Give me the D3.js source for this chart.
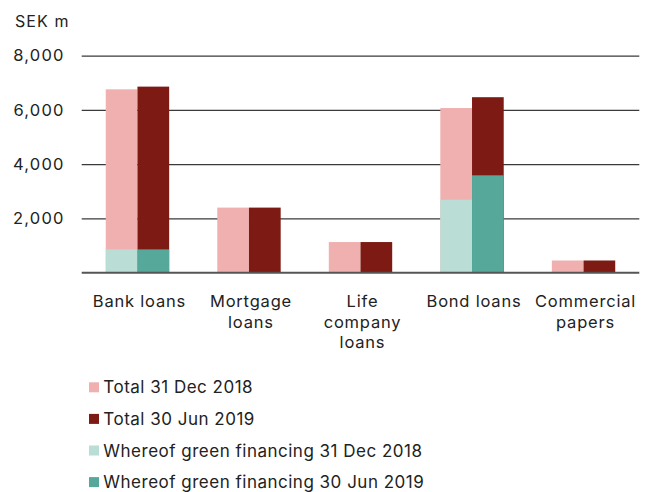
<!DOCTYPE html>
<html>
<head>
<meta charset="utf-8">
<script src="https://cdn.jsdelivr.net/npm/d3@7"></script>
<style>
  body { margin: 0; background: #fff; }
  text { font-family: Inter, "Noto Sans", sans-serif; fill: #222; }
</style>
</head>
<body>
<div id="plot"></div>
<script>
// data (SEK m)
var categories = ["Bank loans", "Mortgage loans", "Life company loans", "Bond loans", "Commercial papers"];
var catLines = [["Bank loans"], ["Mortgage", "loans"], ["Life", "company", "loans"], ["Bond loans"], ["Commercial", "papers"]];
var total2018 = [6760, 2400, 1130, 6070, 450];
var total2019 = [6860, 2400, 1130, 6470, 450];
var green2018 = [860, 0, 0, 2690, 0];
var green2019 = [860, 0, 0, 3590, 0];
var yTicks = [2000, 4000, 6000, 8000];
var seriesNames = ["Total 31 Dec 2018", "Total 30 Jun 2019", "Whereof green financing 31 Dec 2018", "Whereof green financing 30 Jun 2019"];
var colors = ["#EFB0AF", "#7D1A13", "#BADDD6", "#56A99A"];

var width = 656, height = 492;
var marginLeft = 81.7, marginRight = 16.7, marginTop = 55.7, plotBottom = 272.7;

var svg = d3.select("#plot").append("svg")
  .attr("width", width)
  .attr("height", height);

var x = d3.scaleBand()
  .domain(categories)
  .range([marginLeft, width - marginRight]);

var y = d3.scaleLinear()
  .domain([0, 8000])
  .range([plotBottom, marginTop]);

var barW = 31.7;

// gridlines + tick labels
svg.append("g")
  .attr("transform", `translate(${marginLeft},0)`)
  .call(d3.axisLeft(y).tickValues(yTicks).tickSize(0).tickPadding(17).tickFormat(d3.format(",")))
  .call(g => g.select(".domain").remove())
  .call(g => g.selectAll(".tick line").clone()
    .attr("x2", width - marginLeft - marginRight)
    .attr("stroke", "#3a3a3a")
    .attr("stroke-width", 1.3))
  .call(g => g.selectAll(".tick text")
    .attr("font-size", 16.5)
    .attr("letter-spacing", 1.2)
    .attr("fill", "#222")
    .attr("font-family", "Inter"));

svg.append("text")
  .attr("x", 15)
  .attr("y", 27.3)
  .attr("font-size", 16)
  .attr("letter-spacing", 1.1)
  .text("SEK m");

// bars
var bars = [
  {vals: total2018, off: -1, color: colors[0]},
  {vals: total2019, off: 0, color: colors[1]},
  {vals: green2018, off: -1, color: colors[2]},
  {vals: green2019, off: 0, color: colors[3]}
];
bars.forEach(function (s) {
  svg.append("g").selectAll("rect")
    .data(categories)
    .join("rect")
    .attr("x", (c) => x(c) + x.bandwidth() / 2 + s.off * barW)
    .attr("width", barW)
    .attr("y", (c, i) => y(s.vals[i]))
    .attr("height", (c, i) => y(0) - y(s.vals[i]))
    .attr("fill", s.color);
});

// baseline
svg.append("line")
  .attr("x1", marginLeft)
  .attr("x2", width - marginRight)
  .attr("y1", y(0))
  .attr("y2", y(0))
  .attr("stroke", "#555")
  .attr("stroke-width", 2);

// category labels
var lab = svg.append("g").selectAll("text")
  .data(categories)
  .join("text")
  .attr("text-anchor", "middle")
  .attr("font-size", 16.5)
  .attr("letter-spacing", 0.8)
  .attr("y", 307.3);
lab.each(function (c, i) {
  d3.select(this).selectAll("tspan")
    .data(catLines[i])
    .join("tspan")
    .attr("x", x(c) + x.bandwidth() / 2 + 2)
    .attr("dy", (d, j) => j === 0 ? 0 : 20.5)
    .text(d => d);
});

// legend
var leg = svg.append("g").selectAll("g")
  .data(seriesNames)
  .join("g")
  .attr("transform", (d, i) => `translate(89,${387.3 + i * 31.6})`);
leg.append("rect")
  .attr("x", 0)
  .attr("y", -5)
  .attr("width", 10)
  .attr("height", 10)
  .attr("fill", (d, i) => colors[i]);
leg.append("text")
  .attr("x", 14.3)
  .attr("y", 6)
  .attr("font-size", 17)
  .attr("letter-spacing", 0.5)
  .text(d => d);
</script>
</body>
</html>
